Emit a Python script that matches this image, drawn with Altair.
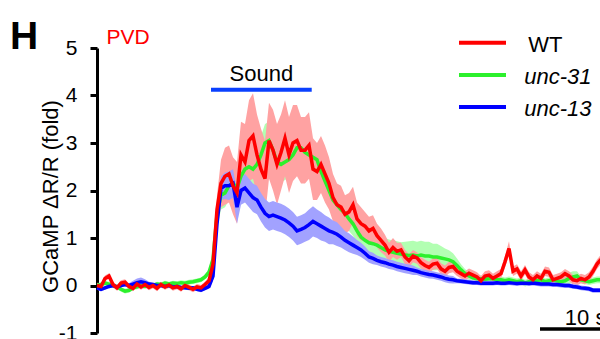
import altair as alt
import pandas as pd

# ---------------- data ----------------
series_names = ["WT", "unc-31", "unc-13"]
dt = 0.5  # seconds between samples

wt_mean = [
    0.0, -0.02, 0.15, 0.2, 0.02, -0.05, 0.05, 0.07, -0.02, -0.06,
    0.03, -0.03, 0.02, -0.04, 0.0, -0.06, 0.02, -0.03, 0.01, -0.05,
    -0.02, -0.07, 0.0, -0.04, -0.08, -0.03, -0.05, 0.02, 0.1, 0.45,
    1.6, 2.15, 2.3, 2.35, 2.1, 1.95, 2.75, 2.6, 3.05, 3.15,
    2.75, 2.45, 2.25, 3.05, 2.85, 2.55, 2.8, 3.1, 2.75, 3.0,
    3.05, 2.85, 2.85, 2.95, 2.45, 2.4, 2.55, 2.35, 2.15, 1.85,
    1.7, 1.65, 1.5, 1.55, 1.7, 1.4, 1.3, 1.25, 1.15, 1.2,
    1.05, 0.95, 0.85, 0.7, 0.8, 0.72, 0.75, 0.6, 0.52, 0.62,
    0.58, 0.48, 0.42, 0.38, 0.45, 0.47, 0.35, 0.3, 0.38, 0.4,
    0.3, 0.25, 0.2, 0.26, 0.22, 0.18, 0.1, 0.2, 0.22, 0.15,
    0.2, 0.25, 0.5, 0.78, 0.3, 0.35, 0.2, 0.33, 0.18, 0.12,
    0.2, 0.15, 0.3, 0.28, 0.12, 0.15, 0.18, 0.25, 0.2, 0.12,
    0.1, 0.15, 0.12, 0.18, 0.3, 0.45, 0.55,
]
wt_sem = [
    0.06, 0.06, 0.06, 0.06, 0.06, 0.06, 0.06, 0.06, 0.06, 0.06,
    0.06, 0.06, 0.06, 0.06, 0.06, 0.06, 0.06, 0.06, 0.06, 0.06,
    0.06, 0.06, 0.06, 0.06, 0.06, 0.06, 0.06, 0.06, 0.08, 0.15,
    0.3, 0.5, 0.6, 0.6, 0.6, 0.65, 0.7, 0.8, 0.85, 0.9,
    0.85, 0.85, 0.8, 0.8, 0.85, 0.85, 0.8, 0.8, 0.8, 0.8,
    0.75, 0.7, 0.7, 0.7, 0.65, 0.6, 0.6, 0.6, 0.55, 0.5,
    0.45, 0.45, 0.4, 0.4, 0.38, 0.35, 0.35, 0.3, 0.3, 0.28,
    0.25, 0.25, 0.22, 0.2, 0.2, 0.18, 0.15, 0.15, 0.14, 0.13,
    0.12, 0.12, 0.12, 0.12, 0.12, 0.12, 0.12, 0.12, 0.12, 0.12,
    0.1, 0.1, 0.1, 0.1, 0.1, 0.1, 0.1, 0.1, 0.1, 0.1,
    0.1, 0.1, 0.12, 0.15, 0.1, 0.1, 0.1, 0.1, 0.1, 0.1,
    0.1, 0.1, 0.1, 0.1, 0.1, 0.1, 0.1, 0.1, 0.1, 0.1,
    0.1, 0.1, 0.1, 0.1, 0.1, 0.1, 0.1,
]

unc31_mean = [
    0.0, 0.02, 0.05, 0.03, 0.0, -0.03, -0.08, -0.12, -0.1, -0.05,
    -0.03, 0.0, -0.02, 0.02, 0.0, 0.03, 0.02, 0.05, 0.03, 0.05,
    0.04, 0.06, 0.05, 0.07, 0.08, 0.1, 0.12, 0.18, 0.28, 0.55,
    1.5, 1.9, 1.95, 2.1, 2.15, 2.05, 2.3, 2.45, 2.5, 2.45,
    2.55, 2.75, 3.0, 3.05, 2.85, 2.6, 2.55, 2.6, 2.65, 2.75,
    2.9, 2.9, 2.8, 2.75, 2.7, 2.65, 2.4, 2.2, 2.0, 1.8,
    1.7, 1.6, 1.52, 1.4, 1.3, 1.15, 1.02, 0.95, 0.9, 0.88,
    0.85, 0.8, 0.75, 0.72, 0.7, 0.68, 0.66, 0.64, 0.63, 0.64,
    0.62, 0.64, 0.62, 0.62, 0.6, 0.6, 0.58, 0.56, 0.54, 0.5,
    0.42, 0.33, 0.25, 0.2, 0.16, 0.14, 0.14, 0.13, 0.14, 0.14,
    0.12, 0.12, 0.1, 0.12, 0.1, 0.08, 0.1, 0.05, 0.08, 0.1,
    0.1, 0.12, 0.08, 0.1, 0.12, 0.1, 0.08, 0.1, 0.15, 0.18,
    0.2, 0.12, 0.1, 0.08, 0.1, 0.12, 0.12,
]
unc31_sem = [
    0.05, 0.05, 0.05, 0.05, 0.05, 0.05, 0.05, 0.05, 0.05, 0.05,
    0.05, 0.05, 0.05, 0.05, 0.05, 0.05, 0.05, 0.05, 0.05, 0.05,
    0.05, 0.05, 0.05, 0.05, 0.05, 0.05, 0.05, 0.05, 0.08, 0.12,
    0.3, 0.3, 0.3, 0.3, 0.3, 0.3, 0.35, 0.35, 0.35, 0.35,
    0.4, 0.4, 0.4, 0.4, 0.4, 0.38, 0.38, 0.38, 0.38, 0.38,
    0.35, 0.35, 0.35, 0.35, 0.35, 0.33, 0.3, 0.3, 0.3, 0.28,
    0.28, 0.26, 0.25, 0.25, 0.25, 0.25, 0.25, 0.25, 0.25, 0.25,
    0.25, 0.25, 0.25, 0.25, 0.25, 0.25, 0.25, 0.28, 0.3, 0.3,
    0.3, 0.3, 0.3, 0.3, 0.28, 0.28, 0.25, 0.22, 0.2, 0.18,
    0.15, 0.12, 0.1, 0.08, 0.07, 0.07, 0.07, 0.07, 0.07, 0.07,
    0.07, 0.07, 0.07, 0.07, 0.07, 0.07, 0.07, 0.07, 0.07, 0.07,
    0.07, 0.07, 0.07, 0.07, 0.07, 0.07, 0.07, 0.08, 0.12, 0.12,
    0.1, 0.07, 0.07, 0.07, 0.07, 0.07, 0.07,
]

unc13_mean = [
    -0.05, -0.08, -0.05, -0.02, 0.0, -0.03, 0.0, 0.02, 0.0, 0.03,
    0.06, 0.08, 0.06, 0.03, 0.02, 0.0, 0.0, -0.02, 0.0, -0.03,
    -0.02, -0.04, -0.05, -0.06, -0.05, -0.08, -0.1, -0.06, -0.02, 0.2,
    1.3, 2.05, 2.1, 2.1, 2.15, 1.65, 2.0, 2.05, 1.95, 1.85,
    1.8, 1.65, 1.52, 1.45, 1.48, 1.45, 1.42, 1.38, 1.32, 1.25,
    1.15, 1.18, 1.22, 1.28, 1.35, 1.3, 1.25, 1.2, 1.15, 1.12,
    1.08, 1.02, 0.95, 0.9, 0.85, 0.8, 0.75, 0.68, 0.6, 0.57,
    0.53, 0.5, 0.48, 0.45, 0.43, 0.4, 0.38, 0.36, 0.34, 0.32,
    0.3, 0.27, 0.25, 0.23, 0.22, 0.2, 0.18, 0.15, 0.13, 0.12,
    0.1, 0.09, 0.08, 0.07, 0.06, 0.06, 0.05, 0.05, 0.05, 0.05,
    0.06, 0.05, 0.05, 0.06, 0.05, 0.04, 0.05, 0.05, 0.04, 0.05,
    0.04, 0.03, 0.03, 0.03, 0.02, 0.02, 0.01, 0.0, 0.0, -0.02,
    -0.03, -0.05, -0.06, -0.07, -0.1, -0.1, -0.1,
]
unc13_sem = [
    0.04, 0.04, 0.04, 0.04, 0.04, 0.04, 0.04, 0.04, 0.05, 0.07,
    0.09, 0.09, 0.07, 0.05, 0.04, 0.04, 0.04, 0.04, 0.04, 0.04,
    0.04, 0.04, 0.04, 0.04, 0.04, 0.04, 0.04, 0.04, 0.05, 0.1,
    0.2, 0.25, 0.28, 0.3, 0.3, 0.35, 0.3, 0.3, 0.3, 0.3,
    0.3, 0.3, 0.3, 0.3, 0.3, 0.3, 0.3, 0.3, 0.3, 0.3,
    0.3, 0.3, 0.3, 0.32, 0.32, 0.3, 0.3, 0.28, 0.28, 0.25,
    0.25, 0.22, 0.2, 0.2, 0.18, 0.16, 0.15, 0.14, 0.12, 0.12,
    0.1, 0.1, 0.1, 0.1, 0.1, 0.1, 0.1, 0.1, 0.1, 0.1,
    0.08, 0.08, 0.08, 0.08, 0.08, 0.08, 0.08, 0.08, 0.08, 0.08,
    0.05, 0.05, 0.05, 0.05, 0.05, 0.05, 0.05, 0.05, 0.05, 0.05,
    0.05, 0.05, 0.05, 0.05, 0.05, 0.05, 0.05, 0.05, 0.05, 0.05,
    0.05, 0.05, 0.05, 0.05, 0.05, 0.05, 0.05, 0.05, 0.05, 0.05,
    0.05, 0.05, 0.05, 0.05, 0.05, 0.05, 0.05,
]

y_ticks = [-1, 0, 1, 2, 3, 4, 5]
sound_start, sound_end, sound_level = 14.25, 26.84, 4.12
scalebar_start, scalebar_len, scalebar_level = 55.375, 10, -0.915

# ---------------- styles ----------------
line_colors = {"WT": "#ff0000", "unc-31": "#2cf02c", "unc-13": "#0000ff"}
band_colors = {"WT": "#ffa2a2", "unc-31": "#b2ffb2", "unc-13": "#a2a2ff"}
FONT = "Liberation Sans"

x_scale = alt.Scale(domain=[0, 62.875], nice=False, zero=False)
y_scale = alt.Scale(domain=[-1, 5], nice=False, zero=False)

y_axis = alt.Axis(
    values=y_ticks, grid=False, tickSize=7, tickWidth=3, domainWidth=3,
    domainColor="black", tickColor="black", labelColor="black",
    labelFontSize=21, labelPadding=13, labelFlush=False, labelOverlap=False,
    labelExpr="'' + datum.value",
    title="GCaMP \u0394R/R (fold)", titleFontSize=22, titleFontWeight="normal",
    titleColor="black", titleAngle=270, titleX=-47, titleY=148,
    titleAlign="center", titleBaseline="middle",
)


def Y(field):
    return alt.Y(field, scale=y_scale, axis=y_axis)


def Xf(field):
    return alt.X(field, scale=x_scale, axis=None)


def frame(mean, sem):
    assert len(mean) == len(sem)
    return pd.DataFrame({
        "time": [i * dt for i in range(len(mean))],
        "mean": mean,
        "lo": [m - s for m, s in zip(mean, sem)],
        "hi": [m + s for m, s in zip(mean, sem)],
    })


frames = {
    "WT": frame(wt_mean, wt_sem),
    "unc-31": frame(unc31_mean, unc31_sem),
    "unc-13": frame(unc13_mean, unc13_sem),
}

layers = []
for name in ["unc-31", "WT", "unc-13"]:
    layers.append(
        alt.Chart(frames[name]).mark_area(color=band_colors[name], opacity=1).encode(
            x=Xf("time:Q"), y=Y("lo:Q"), y2="hi:Q"
        )
    )
for name in ["unc-31", "unc-13", "WT"]:
    layers.append(
        alt.Chart(frames[name]).mark_line(color=line_colors[name], strokeWidth=3.5).encode(
            x=Xf("time:Q"), y=Y("mean:Q")
        )
    )

# sound bar
sound_df = pd.DataFrame({"start": [sound_start], "end": [sound_end], "y": [sound_level],
                         "mid": [(sound_start + sound_end) / 2]})
layers.append(
    alt.Chart(sound_df).mark_rule(color="#0a40ff", strokeWidth=4).encode(
        x=Xf("start:Q"), x2="end:Q", y=Y("y:Q"),
    )
)
layers.append(
    alt.Chart(sound_df).transform_calculate(ty="datum.y + 0.19").mark_text(
        text="Sound", fontSize=22, align="center", baseline="alphabetic", color="black", font=FONT
    ).encode(x=Xf("mid:Q"), y=Y("ty:Q"))
)

# scale bar
scale_df = pd.DataFrame({"start": [scalebar_start], "end": [scalebar_start + scalebar_len],
                         "y": [scalebar_level]})
layers.append(
    alt.Chart(scale_df).mark_rule(color="black", strokeWidth=3.5).encode(
        x=Xf("start:Q"), x2="end:Q", y=Y("y:Q"),
    )
)
layers.append(
    alt.Chart(scale_df).transform_calculate(tx="datum.start + 3.1", ty="datum.y + 0.085").mark_text(
        text="10 s", fontSize=22, align="left", baseline="alphabetic", color="black", font=FONT
    ).encode(x=Xf("tx:Q"), y=Y("ty:Q"))
)

# legend (drawn in data coordinates)
legend_rows = [5.112, 4.432, 3.758]
for name, yv in zip(series_names, legend_rows):
    ldf = pd.DataFrame({"x1": [45.25], "x2": [51.125], "y": [yv],
                        "tx": [53.9 if name == "WT" else 53.4], "ty": [yv - 0.2]})
    layers.append(
        alt.Chart(ldf).mark_rule(color=line_colors[name], strokeWidth=4).encode(
            x=Xf("x1:Q"), x2="x2:Q", y=Y("y:Q"),
        )
    )
    layers.append(
        alt.Chart(ldf).mark_text(
            text=name, fontSize=22, align="left", baseline="alphabetic", color="black",
            font=FONT, fontStyle="normal" if name == "WT" else "italic",
        ).encode(x=Xf("tx:Q"), y=Y("ty:Q"))
    )

# panel letter and neuron label
one = pd.DataFrame({"k": [0]})
layers.append(
    alt.Chart(one).mark_text(text="H", fontSize=39, fontWeight="bold", align="left",
                             baseline="alphabetic", color="black", font=FONT).encode(
        x=alt.value(-87), y=alt.value(0.5)
    )
)
layers.append(
    alt.Chart(one).mark_text(text="PVD", fontSize=21, align="left",
                             baseline="alphabetic", color="#ff0000", font=FONT).encode(
        x=alt.value(9.5), y=alt.value(-4.5)
    )
)

chart = alt.layer(*layers).properties(
    width=503, height=285,
    autosize=alt.AutoSizeParams(type="none"),
    padding={"left": 97, "right": 0, "top": 48, "bottom": 6},
).configure(font=FONT).configure_view(stroke=None)

chart.save("out.html", embed_options={"renderer": "svg", "actions": False})
